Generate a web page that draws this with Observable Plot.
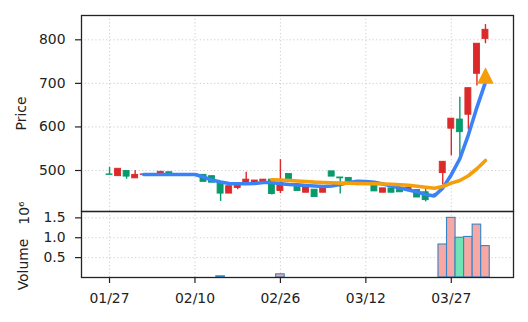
<!DOCTYPE html>
<html><head><meta charset="utf-8">
<script src="https://cdn.jsdelivr.net/npm/d3@7"></script>
<script src="https://cdn.jsdelivr.net/npm/@observablehq/plot@0.6"></script>
<style>
html,body{margin:0;padding:0;background:#fff;}
#chart svg{display:block;overflow:visible;}
</style></head><body><div id="chart"></div>
<script>
// ---- data ----
const tickIndex = [0, 10, 20, 30, 40];
const tickLabels = ["01/27", "02/10", "02/26", "03/12", "03/27"];
const priceTicks = [500, 600, 700, 800];
const volumeTicks = [0.5, 1.0, 1.5];

const open  = [491,487,499,482,490, 491,490,496,491,491, 490,490,487,473,447, 460,469,470,471,479, 453,492,462,449,456, 449,498,484,483,474, 472,473,449,459,458, 455,455,450,441,494, 596,617,628,722,802];
const high  = [507,504,499,500,492, 492,497,496,492,492, 491,490,487,473,464, 471,496,477,479,479, 525,492,462,462,456, 462,498,484,483,474, 476,473,459,459,458, 462,455,458,447,520, 619,668,689,791,835];
const low   = [490,487,480,482,489, 489,490,491,490,489, 489,474,472,429,447, 456,468,470,471,444, 447,480,453,449,439, 449,486,446,475,465, 471,452,449,449,450, 453,438,428,439,467, 534,534,593,694,791];
const close = [490,504,486,490,491, 490,497,491,491.5,490, 491,474,472,447,464, 471,479,477,479,446, 472,480,453,462,439, 462,486,482,475,470, 474,452,459,449,450, 460,438,432,444,520, 619,588,689,791,823];
const volume = [0,0,0,0,0, 0,0,0,0,0, 0,0,0,30000,0, 0,0,0,0,0, 80000,0,0,0,0, 0,0,0,0,0, 0,0,0,0,0, 0,0,0,0,830000, 1500000,1000000,1020000,1330000,790000];
const ma5  = [null,null,null,null,491, 491,491,491,491,491, 491,485,478,473.6,470, 469.5,469.5,470,472.5,472.5, 469.5,468,467,465.6,464.4, 463.3,464.4,468,472.5,475.4, 474.8,473,469,464.4,460, 455,450.7,445,441.5,459.6, 490.4,527,582,645,703];
const ma20 = [null,null,null,null,null, null,null,null,null,null, null,null,null,null,null, null,null,null,null,478.7, 478.2,477,475.9,474.8,473.4, 472.5,471.8,471.1,470.6,470.2, 469.7,469.5,469,468.3,467.4, 466,464,461.5,459.1,463.3, 471,477,488,504,523];
const signalIndex = [44];
const signalPrice = [718];

// ---- build rows ----
const bars = open.map((o, i) => ({i, open: o, high: high[i], low: low[i], close: close[i], vol: volume[i] / 1e6, up: close[i] >= o}));
const upBars = bars.filter(d => d.up);
const downBars = bars.filter(d => !d.up);
const volBars = bars.filter(d => d.vol > 0);
const ma5Rows = ma5.map((v, i) => ({i, v})).filter(d => d.v != null);
const ma20Rows = ma20.map((v, i) => ({i, v})).filter(d => d.v != null);
const signals = signalIndex.map((i, k) => ({i, p: signalPrice[k]}));

const RED = "#dc2a2a", GREEN = "#079a6c";
const VRED = "#f7a8a4", VGREEN = "#70e4b5", VEDGE = "#3584c6";
const BLUE = "#3b82f6", ORANGE = "#f59e0b";
const FONT = 13.9;
const xDomain = [-3.28, 47.28];
const gridStyle = {stroke: "#c8c8c8", strokeOpacity: 1, strokeWidth: 0.9, strokeDasharray: "1.2,2.4"};

const tri = {draw(ctx, size) { const s = Math.sqrt(size / Math.PI); ctx.moveTo(0, -s); ctx.lineTo(s, s); ctx.lineTo(-s, s); ctx.closePath(); }};

const topPlot = Plot.plot({
  width: 528, height: 211,
  marginTop: 15, marginBottom: 0, marginLeft: 81, marginRight: 15,
  style: {fontFamily: "DejaVu Sans", fontSize: FONT + "px", color: "#222", background: "transparent"},
  x: {type: "linear", domain: xDomain, axis: null},
  y: {domain: [405.9, 855.8]},
  marks: [
    Plot.gridX(tickIndex, gridStyle),
    Plot.gridY(priceTicks, gridStyle),
    Plot.ruleX(upBars, {x: "i", y1: "low", y2: "high", stroke: RED, strokeWidth: 1.4}),
    Plot.ruleX(downBars, {x: "i", y1: "low", y2: "high", stroke: GREEN, strokeWidth: 1.4}),
    Plot.rect(upBars, {x1: d => d.i - 0.35, x2: d => d.i + 0.35, y1: "open", y2: "close", fill: RED, stroke: RED, strokeWidth: 0.9}),
    Plot.rect(downBars, {x1: d => d.i - 0.35, x2: d => d.i + 0.35, y1: "open", y2: "close", fill: GREEN, stroke: GREEN, strokeWidth: 0.9}),
    Plot.line(ma5Rows, {x: "i", y: "v", stroke: BLUE, strokeWidth: 3.6, strokeLinejoin: "round", strokeLinecap: "round", curve: "linear"}),
    Plot.line(ma20Rows, {x: "i", y: "v", stroke: ORANGE, strokeWidth: 3.6, strokeLinejoin: "round", strokeLinecap: "round", curve: "linear"}),
    Plot.dot(signals, {x: "i", y: "p", symbol: tri, r: 8.3, fill: ORANGE, stroke: null}),
    Plot.axisY(priceTicks, {tickSize: 6, tickPadding: 10, fontSize: FONT, label: null, strokeWidth: 1.2}),
    Plot.frame({stroke: "#222", strokeWidth: 1.3}),
    Plot.text(["Price"], {frameAnchor: "left", dx: -60, rotate: -90, fontSize: FONT, textAnchor: "middle", lineAnchor: "middle", fill: "#222"})
  ]
});

const botPlot = Plot.plot({
  width: 528, height: 111,
  marginTop: 0, marginBottom: 45, marginLeft: 81, marginRight: 15,
  style: {fontFamily: "DejaVu Sans", fontSize: FONT + "px", color: "#222", background: "transparent"},
  x: {type: "linear", domain: xDomain},
  y: {domain: [0, 1.66]},
  marks: [
    Plot.gridX(tickIndex, gridStyle),
    Plot.gridY(volumeTicks, gridStyle),
    Plot.rect(volBars, {x1: d => d.i - 0.5, x2: d => d.i + 0.5, y1: 0, y2: "vol", fill: d => d.up ? VRED : VGREEN, stroke: VEDGE, strokeWidth: 1.1}),
    Plot.axisY(volumeTicks, {tickSize: 6, tickPadding: 10, fontSize: FONT, label: null, tickFormat: d3.format(".1f"), strokeWidth: 1.2}),
    Plot.axisX(tickIndex, {tickSize: 6, tickPadding: 10, fontSize: FONT, label: null, tickFormat: (d, k) => tickLabels[k], strokeWidth: 1.2}),
    Plot.frame({stroke: "#222", strokeWidth: 1.3}),
    Plot.text(["Volume"], {frameAnchor: "left", dx: -58, dy: 20, rotate: -90, fontSize: FONT, textAnchor: "middle", lineAnchor: "middle", fill: "#222"}),
    Plot.text(["10\u2076"], {frameAnchor: "left", dx: -57, dy: -31.5, rotate: -90, fontSize: FONT, textAnchor: "middle", lineAnchor: "middle", fill: "#222"})
  ]
});

const root = document.getElementById("chart");
root.appendChild(topPlot);
root.appendChild(botPlot);
</script>
</body></html>
